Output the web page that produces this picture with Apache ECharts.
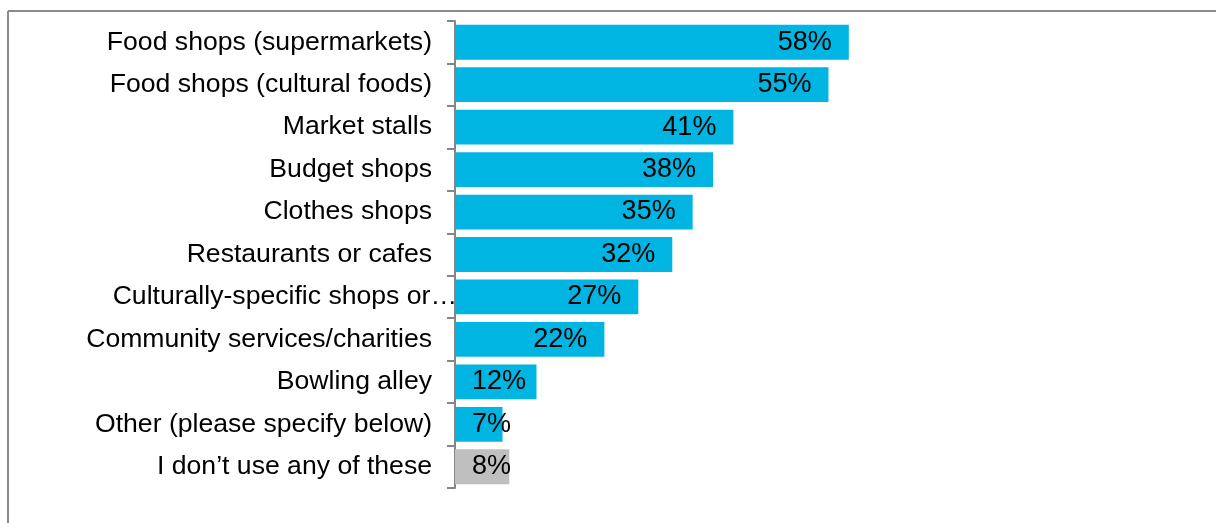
<!DOCTYPE html>
<html>
<head>
<meta charset="utf-8">
<script src="https://cdn.jsdelivr.net/npm/echarts@6/dist/echarts.min.js"></script>
<style>
  html, body { margin: 0; padding: 0; background: #fff; }
  #chart { width: 1216px; height: 523px; }
</style>
</head>
<body>
<div id="chart"></div>
<script>
// Places used, share of respondents (%)
const categories = [
  'Food shops (supermarkets)',
  'Food shops (cultural foods)',
  'Market stalls',
  'Budget shops',
  'Clothes shops',
  'Restaurants or cafes',
  'Culturally-specific shops or\u2026',
  'Community services/charities',
  'Bowling alley',
  'Other (please specify below)',
  'I don\u2019t use any of these'
];
const values = [58, 55, 41, 38, 35, 32, 27, 22, 12, 7, 8];
const noneCategory = 'I don\u2019t use any of these';

const BLUE = '#00B5E2';
const GREY = '#BFBFBF';

const chart = echarts.init(document.getElementById('chart'));

const barData = values.map((v, i) => {
  const small = v < 15;
  return {
    value: v,
    itemStyle: { color: categories[i] === noneCategory ? GREY : BLUE },
    label: small
      ? { position: 'insideLeft', distance: 17 }
      : { position: 'insideRight', distance: 17 }
  };
});

const yData = categories.map(c =>
  c.endsWith('\u2026')
    ? { value: c, textStyle: { padding: [0, -25, 0, 0] } }
    : c
);

chart.setOption({
  animation: false,
  grid: { left: 455, right: 82, top: 21, bottom: 35, containLabel: false },
  xAxis: {
    type: 'value', min: 0, max: 100,
    show: false
  },
  yAxis: {
    type: 'category',
    inverse: true,
    data: yData,
    axisLine: { show: true, lineStyle: { color: '#868686', width: 2 } },
    axisTick: { show: true, length: 8, lineStyle: { color: '#868686', width: 2 } },
    axisLabel: {
      margin: 23,
      color: '#000',
      fontFamily: 'Liberation Sans, Arial, sans-serif',
      fontSize: 26.6
    },
    splitLine: { show: false }
  },
  series: [{
    type: 'bar',
    data: barData,
    barCategoryGap: '18%',
    label: {
      show: true,
      formatter: '{c}%',
      color: '#000',
      fontFamily: 'Liberation Sans, Arial, sans-serif',
      fontSize: 27
    }
  }],
  graphic: [
    {
      type: 'line',
      shape: { x1: 8, y1: 11, x2: 1216, y2: 11 },
      style: { stroke: '#8A8A8A', lineWidth: 2 }
    },
    {
      type: 'line',
      shape: { x1: 8, y1: 11, x2: 8, y2: 523 },
      style: { stroke: '#8A8A8A', lineWidth: 2 }
    }
  ]
});
</script>
</body>
</html>
